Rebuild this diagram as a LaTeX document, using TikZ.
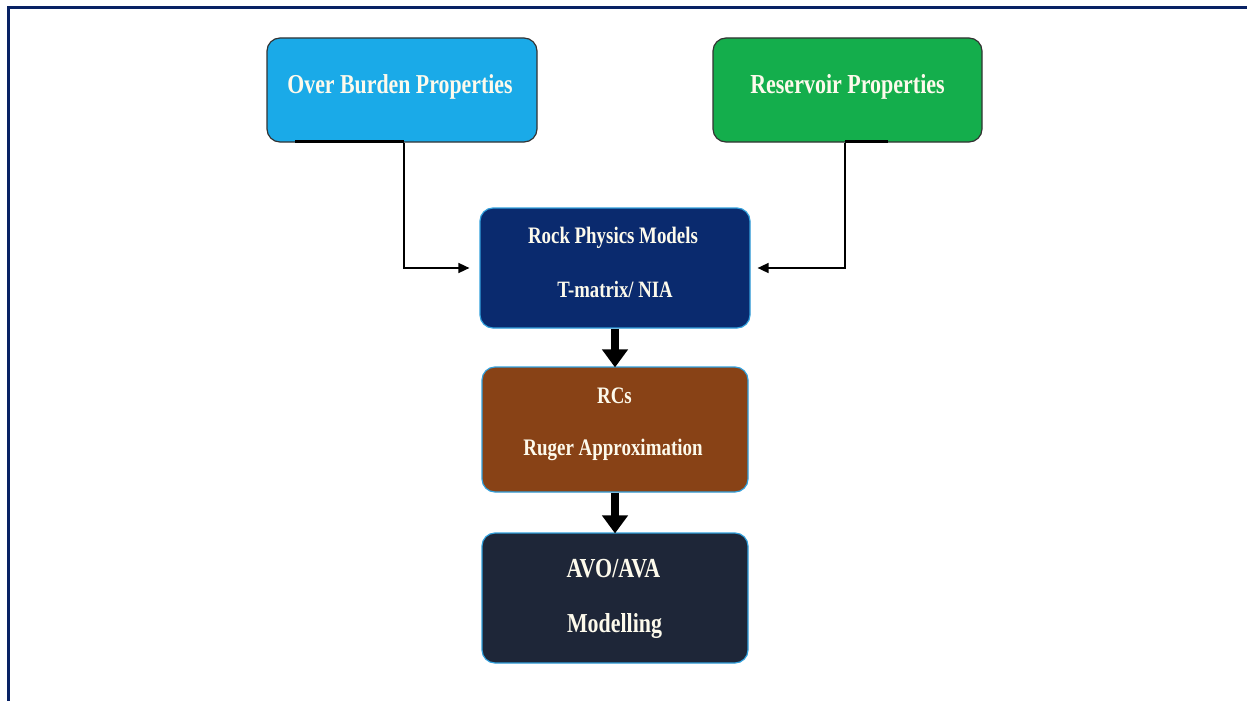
\documentclass[tikz,border=0pt]{standalone}
\usepackage{fontspec}
\setmainfont{Liberation Serif}
\newfontfamily\condfont[FakeStretch=0.8]{Liberation Serif}
\usetikzlibrary{arrows.meta}
\definecolor{framec}{RGB}{8,34,100}
\definecolor{obc}{RGB}{26,170,232}
\definecolor{resc}{RGB}{20,174,76}
\definecolor{rpmc}{RGB}{10,42,110}
\definecolor{rcsc}{RGB}{136,66,22}
\definecolor{avoc}{RGB}{30,38,56}
\definecolor{edgeblue}{RGB}{50,160,220}
\definecolor{txtc}{RGB}{253,250,236}
\tikzset{
  box/.style={rectangle, rounded corners=13pt, line width=1.2pt, inner sep=0pt},
  lbl/.style={anchor=base, text=txtc, inner sep=0pt, font=\condfont\bfseries},
  conn/.style={line width=1.6pt, -{Triangle[width=10pt,length=11pt]}},
  fat/.style={line width=8pt, -{Triangle[width=25pt,length=18pt]}}
}
\begin{document}
\begin{tikzpicture}[x=1pt,y=-1pt]
\useasboundingbox (0,0) rectangle (1247,701);
\fill[white] (0,0) rectangle (1247,701);
% frame
\draw[framec, line width=2.5pt] (8.5,701) -- (8.5,7.5) -- (1247,7.5);

% boxes
\node[box, draw=black!80, fill=obc, minimum width=270pt, minimum height=104pt] (ob) at (402,90) {};
\node[box, draw=black!80, fill=resc, minimum width=269pt, minimum height=104pt] (res) at (847.5,90) {};
\node[box, draw=edgeblue, fill=rpmc, minimum width=270pt, minimum height=120pt] (rpm) at (615,268) {};
\node[box, draw=edgeblue, fill=rcsc, minimum width=266pt, minimum height=125pt] (rcs) at (615,429.5) {};
\node[box, draw=edgeblue, fill=avoc, minimum width=266pt, minimum height=130pt] (avo) at (615,598) {};

% texts
\node[lbl, font=\fontsize{27.3}{30}\condfont\bfseries] (obt) at (400,93) {Over Burden Properties};
\node[lbl, font=\fontsize{27.5}{30}\condfont\bfseries] (rest) at (847.5,93) {Reservoir Properties};
\node[lbl, font=\fontsize{23.6}{26}\condfont\bfseries] (rpmt1) at (613,243) {Rock Physics Models};
\node[lbl, font=\fontsize{23.4}{26}\condfont\bfseries] (rpmt2) at (615,297) {T-matrix/ NIA};
\node[lbl, font=\fontsize{23.6}{26}\condfont\bfseries] (rcst1) at (614.5,403) {RCs};
\node[lbl, font=\fontsize{23.7}{26}\condfont\bfseries] (rcst2) at (613,455) {Ruger Approximation};
\node[lbl, font=\fontsize{27.5}{30}\condfont\bfseries] (avot1) at (613.5,577) {AVO/AVA};
\node[lbl, font=\fontsize{27.4}{30}\condfont\bfseries] (avot2) at (614.5,632) {Modelling};

% shadow strokes under top boxes
\draw[black, line width=3pt] ([xshift=-107pt,yshift=1.5pt]ob.south) -- ([xshift=2pt,yshift=1.5pt]ob.south);
\draw[black, line width=3pt] ([xshift=-2.5pt,yshift=1.5pt]res.south) -- ([xshift=40pt,yshift=1.5pt]res.south);

% connectors
\draw[conn] ([xshift=2pt]ob.south) |- ([xshift=-10pt]rpm.west);
\draw[conn] ([xshift=-2.5pt]res.south) |- ([xshift=7pt]rpm.east);
\draw[fat] (rpm.south) -- ([yshift=-1pt]rcs.north);
\draw[fat] (rcs.south) -- ([yshift=-1pt]avo.north);
\end{tikzpicture}
\end{document}
